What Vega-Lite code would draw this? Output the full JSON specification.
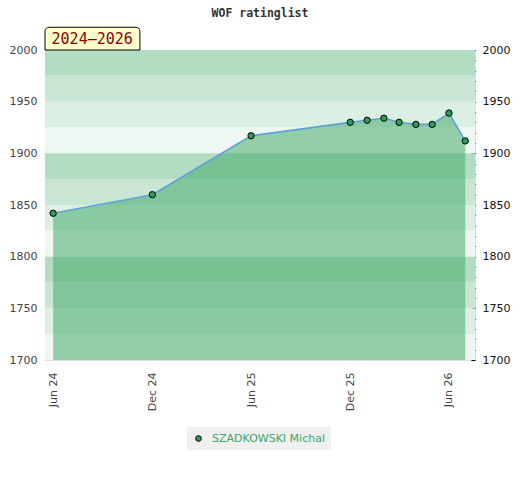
{
  "$schema": "https://vega.github.io/schema/vega-lite/v6.json",
  "width": 430,
  "height": 310,
  "autosize": "none",
  "padding": {"left": 45, "top": 50, "right": 45, "bottom": 120},
  "background": "white",
  "title": {
    "text": "WOF ratinglist",
    "font": "DejaVu Sans Mono",
    "fontSize": 11.5,
    "fontWeight": "bold",
    "color": "#333333",
    "anchor": "middle",
    "offset": 7
  },
  "datasets": {
    "ratings": [
      {"date": "2024-06-01T00:00:00", "rating": 1842, "player": "SZADKOWSKI Michal"},
      {"date": "2024-12-01T00:00:00", "rating": 1860, "player": "SZADKOWSKI Michal"},
      {"date": "2025-06-01T00:00:00", "rating": 1917, "player": "SZADKOWSKI Michal"},
      {"date": "2025-12-01T00:00:00", "rating": 1930, "player": "SZADKOWSKI Michal"},
      {"date": "2026-01-01T00:00:00", "rating": 1932, "player": "SZADKOWSKI Michal"},
      {"date": "2026-02-01T00:00:00", "rating": 1934, "player": "SZADKOWSKI Michal"},
      {"date": "2026-03-01T00:00:00", "rating": 1930, "player": "SZADKOWSKI Michal"},
      {"date": "2026-04-01T00:00:00", "rating": 1928, "player": "SZADKOWSKI Michal"},
      {"date": "2026-05-01T00:00:00", "rating": 1928, "player": "SZADKOWSKI Michal"},
      {"date": "2026-06-01T00:00:00", "rating": 1939, "player": "SZADKOWSKI Michal"},
      {"date": "2026-07-01T00:00:00", "rating": 1912, "player": "SZADKOWSKI Michal"}
    ],
    "bands": [
      {"lo": 1975, "hi": 2000, "tier": "a"},
      {"lo": 1950, "hi": 1975, "tier": "b"},
      {"lo": 1925, "hi": 1950, "tier": "c"},
      {"lo": 1900, "hi": 1925, "tier": "d"},
      {"lo": 1875, "hi": 1900, "tier": "a"},
      {"lo": 1850, "hi": 1875, "tier": "b"},
      {"lo": 1825, "hi": 1850, "tier": "c"},
      {"lo": 1800, "hi": 1825, "tier": "d"},
      {"lo": 1775, "hi": 1800, "tier": "a"},
      {"lo": 1750, "hi": 1775, "tier": "b"},
      {"lo": 1725, "hi": 1750, "tier": "c"},
      {"lo": 1700, "hi": 1725, "tier": "d"}
    ],
    "period": [
      {"label": "2024–2026"}
    ]
  },
  "layer": [
    {
      "data": {"name": "bands"},
      "mark": {"type": "rect"},
      "encoding": {
        "y": {
          "field": "lo", "type": "quantitative",
          "scale": {"domain": [1700, 2000], "nice": false, "zero": false},
          "axis": {
            "orient": "left", "title": null, "format": "d", "values": [1700, 1750, 1800, 1850, 1900, 1950, 2000],
            "ticks": false, "domain": false, "grid": false,
            "labelColor": "#444444", "labelFontSize": 11, "labelPadding": 8
          }
        },
        "y2": {"field": "hi"},
        "fill": {
          "field": "tier", "type": "nominal", "legend": null,
          "scale": {"domain": ["a", "b", "c", "d"], "range": ["#b3ddc2", "#c9e6d4", "#dcefe3", "#eef7f1"]}
        }
      }
    },
    {
      "data": {"name": "ratings"},
      "mark": {"type": "area", "color": "#3fa866", "opacity": 0.52},
      "encoding": {
        "x": {
          "field": "date", "type": "temporal",
          "scale": {"domain": [{"year": 2024, "month": 5, "date": 17}, {"year": 2026, "month": 7, "date": 19}]},
          "axis": {
            "title": null, "format": "%b %y", "labelAngle": -90, "ticks": false, "domain": false, "grid": false,
            "labelColor": "#444444", "labelFontSize": 11, "labelPadding": 12,
            "values": [
              {"year": 2024, "month": 6, "date": 1},
              {"year": 2024, "month": 12, "date": 1},
              {"year": 2025, "month": 6, "date": 1},
              {"year": 2025, "month": 12, "date": 1},
              {"year": 2026, "month": 6, "date": 1}
            ]
          }
        },
        "y": {"field": "rating", "type": "quantitative", "scale": {"domain": [1700, 2000], "nice": false, "zero": false}, "axis": null},
        "y2": {"datum": 1700}
      }
    },
    {
      "data": {"name": "ratings"},
      "transform": [{"filter": "indexof(['2024-06-01T00:00:00', '2026-07-01T00:00:00'], datum.date) >= 0"}],
      "mark": {"type": "rule", "color": "#3aa765", "strokeWidth": 1.2},
      "encoding": {
        "x": {"field": "date", "type": "temporal"},
        "y": {"field": "rating", "type": "quantitative", "scale": {"domain": [1700, 2000], "nice": false, "zero": false}, "axis": null},
        "y2": {"datum": 1700}
      }
    },
    {
      "data": {"name": "ratings"},
      "mark": {"type": "line", "color": "#5ba3d9", "strokeWidth": 1.6},
      "encoding": {
        "x": {"field": "date", "type": "temporal"},
        "y": {"field": "rating", "type": "quantitative", "scale": {"domain": [1700, 2000], "nice": false, "zero": false}, "axis": null}
      }
    },
    {
      "data": {"name": "ratings"},
      "mark": {"type": "point", "filled": true, "size": 40, "stroke": "black", "strokeWidth": 1, "opacity": 1},
      "encoding": {
        "x": {"field": "date", "type": "temporal"},
        "y": {
          "field": "rating", "type": "quantitative",
          "scale": {"domain": [1700, 2000], "nice": false, "zero": false},
          "axis": {
            "orient": "right", "title": null, "grid": false, "domain": false, "format": "d",
            "values": [1700, 1710, 1720, 1730, 1740, 1750, 1760, 1770, 1780, 1790, 1800, 1810, 1820, 1830, 1840, 1850, 1860, 1870, 1880, 1890, 1900, 1910, 1920, 1930, 1940, 1950, 1960, 1970, 1980, 1990, 2000],
            "labelExpr": "datum.value % 50 == 0 ? datum.label : ''",
            "offset": -4, "tickSize": 4, "tickColor": "black", "labelColor": "#111111", "labelFontSize": 11, "labelPadding": 7
          }
        },
        "color": {
          "field": "player", "type": "nominal",
          "scale": {"range": ["#2e9e57"]},
          "legend": {
            "title": null, "orient": "none", "legendX": 142, "legendY": 377,
            "fillColor": "#f0f0f0", "padding": 6,
            "labelColor": "#3aa765", "labelFontSize": 11, "labelOffset": 8,
            "symbolType": "circle", "symbolSize": 32,
            "symbolStrokeColor": "black", "symbolStrokeWidth": 1
          }
        }
      }
    },
    {
      "data": {"name": "period"},
      "mark": {"type": "rect", "fill": "#ffffcc", "stroke": "black", "strokeWidth": 1, "cornerRadiusTopLeft": 4, "cornerRadiusTopRight": 4},
      "encoding": {
        "x": {"datum": {"year": 2024, "month": 5, "date": 17}, "type": "temporal"},
        "x2": {"datum": {"year": 2024, "month": 11, "date": 8}},
        "y": {"datum": 2000, "type": "quantitative", "scale": {"domain": [1700, 2000], "nice": false, "zero": false}, "axis": null},
        "y2": {"datum": 2022}
      }
    },
    {
      "data": {"name": "period"},
      "mark": {"type": "text", "font": "DejaVu Sans Mono", "fontSize": 15, "color": "#8b0000", "align": "center", "baseline": "middle"},
      "encoding": {
        "x": {"datum": {"year": 2024, "month": 8, "date": 12}, "type": "temporal"},
        "y": {"datum": 2011, "type": "quantitative", "scale": {"domain": [1700, 2000], "nice": false, "zero": false}, "axis": null},
        "text": {"field": "label"}
      }
    }
  ],
  "resolve": {"axis": {"y": "independent"}},
  "config": {
    "font": "DejaVu Sans",
    "view": {"stroke": "#dddddd"}
  }
}
